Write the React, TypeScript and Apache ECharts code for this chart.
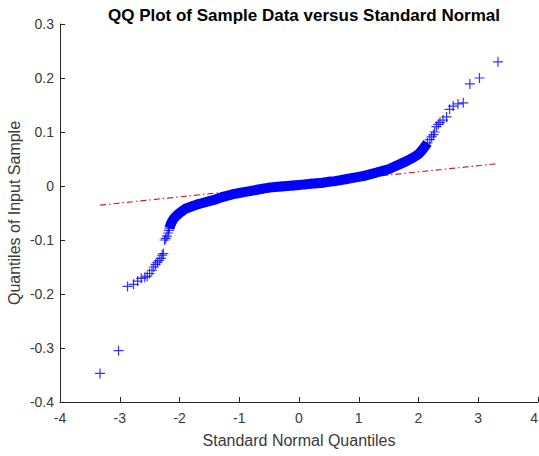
import React, { useEffect, useRef } from "react";
import * as echarts from "echarts";

// Lower tail (standard normal quantile, sample quantile)
const lowTailX = [-3.33, -3.02, -2.87, -2.77, -2.70, -2.64, -2.58, -2.54, -2.50, -2.46, -2.43, -2.40, -2.37, -2.34, -2.31, -2.29, -2.27, -2.25, -2.23, -2.21, -2.19, -2.18];
const lowTailY = [-0.347, -0.305, -0.186, -0.182, -0.176, -0.171, -0.169, -0.167, -0.162, -0.156, -0.150, -0.145, -0.141, -0.138, -0.134, -0.128, -0.125, -0.100, -0.097, -0.093, -0.087, -0.082];

// Dense central band
const bandX = [-2.17, -2.14, -2.10, -2.05, -2.00, -1.95, -1.90, -1.80, -1.70, -1.60, -1.50, -1.40, -1.30, -1.20, -1.10, -1.00, -0.90, -0.80, -0.70, -0.60, -0.50, -0.40, -0.30, -0.20, -0.10, 0.00, 0.10, 0.20, 0.30, 0.40, 0.50, 0.60, 0.70, 0.80, 0.90, 1.00, 1.10, 1.20, 1.30, 1.40, 1.50, 1.60, 1.70, 1.80, 1.90, 2.00, 2.05, 2.10, 2.15];
const bandY = [-0.078, -0.069, -0.061, -0.055, -0.050, -0.046, -0.042, -0.038, -0.034, -0.031, -0.028, -0.025, -0.021, -0.018, -0.015, -0.013, -0.011, -0.009, -0.007, -0.005, -0.003, -0.002, -0.001, 0.000, 0.001, 0.002, 0.003, 0.004, 0.005, 0.006, 0.008, 0.009, 0.011, 0.013, 0.015, 0.017, 0.019, 0.022, 0.025, 0.028, 0.031, 0.036, 0.041, 0.046, 0.052, 0.059, 0.065, 0.072, 0.080];

// Upper tail
const highTailX = [2.19, 2.22, 2.25, 2.27, 2.30, 2.33, 2.36, 2.41, 2.47, 2.52, 2.58, 2.66, 2.75, 2.86, 3.02, 3.33];
const highTailY = [0.086, 0.091, 0.095, 0.100, 0.110, 0.114, 0.118, 0.122, 0.128, 0.142, 0.148, 0.152, 0.154, 0.189, 0.200, 0.230];

// Reference line (through quartiles, extended to data range)
const refLineX = [-3.33, 3.33];
const refLineY = [-0.0355, 0.0415];

const xTicks = { min: -4, max: 4, interval: 1 };
const yTicks = { min: -0.4, max: 0.3, interval: 0.1 };

const PLUS =
  "path://M4.4,0 L5.6,0 L5.6,4.4 L10,4.4 L10,5.6 L5.6,5.6 L5.6,10 L4.4,10 L4.4,5.6 L0,5.6 L0,4.4 L4.4,4.4 Z";

const zip = (xs: number[], ys: number[]) => xs.map((x, i) => [x, ys[i]]);

export default function App() {
  const ref = useRef<HTMLDivElement>(null);
  useEffect(() => {
    if (!ref.current) return;
    const chart = echarts.init(ref.current, undefined, { renderer: "svg" });
    const font = "'Liberation Sans', Arial, Helvetica, sans-serif";
    const axisColor = "#262626";
    const labelColor = "#3a3a3a";
    const allPoints = [
      ...zip(lowTailX, lowTailY),
      ...zip(bandX, bandY),
      ...zip(highTailX, highTailY),
    ];
    chart.setOption({
      animation: false,
      backgroundColor: "#ffffff",
      title: {
        text: "QQ Plot of Sample Data versus Standard Normal",
        left: 299,
        top: 2,
        textAlign: "center",
        textStyle: { fontFamily: font, fontSize: 17, fontWeight: "bold", color: "#000000" },
      },
      grid: { left: 60, right: 1, top: 24, bottom: 54, containLabel: false, outerBoundsMode: "none" },
      xAxis: {
        type: "value",
        min: xTicks.min,
        max: xTicks.max,
        interval: xTicks.interval,
        name: "Standard Normal Quantiles",
        nameLocation: "middle",
        nameGap: 30,
        nameTextStyle: { fontFamily: font, fontSize: 16, color: labelColor },
        axisLine: { show: true, onZero: false, lineStyle: { color: axisColor, width: 1 } },
        axisTick: { show: true, inside: true, length: 5, lineStyle: { color: axisColor } },
        axisLabel: { fontFamily: font, fontSize: 14, color: labelColor, margin: 9, alignMaxLabel: "right" },
        splitLine: { show: false },
      },
      yAxis: {
        type: "value",
        min: yTicks.min,
        max: yTicks.max,
        interval: yTicks.interval,
        name: "Quantiles of Input Sample",
        nameLocation: "middle",
        nameGap: 38,
        nameMoveOverlap: false,
        nameTextStyle: { fontFamily: font, fontSize: 16, color: labelColor },
        axisLine: { show: true, onZero: false, lineStyle: { color: axisColor, width: 1 } },
        axisTick: { show: true, inside: true, length: 5, lineStyle: { color: axisColor } },
        axisLabel: {
          fontFamily: font,
          fontSize: 14,
          color: labelColor,
          margin: 6,
          formatter: (v: number) => String(parseFloat(v.toFixed(1))),
        },
        splitLine: { show: false },
      },
      series: [
        {
          type: "line",
          data: zip(refLineX, refLineY),
          showSymbol: false,
          symbol: "none",
          lineStyle: { color: "#d42222", width: 1.2, type: [6, 3, 1.5, 3] },
          z: 1,
          silent: true,
        },
        {
          type: "line",
          data: zip(bandX, bandY),
          showSymbol: false,
          symbol: "none",
          lineStyle: { color: "#0000ff", width: 10, cap: "butt", join: "round" },
          z: 2,
          silent: true,
        },
        {
          type: "scatter",
          data: allPoints,
          symbol: PLUS,
          symbolSize: 10,
          itemStyle: { color: "#0000ff" },
          z: 3,
          silent: true,
        },
      ],
    });
    return () => chart.dispose();
  }, []);
  return (
    <div
      ref={ref}
      style={{ position: "fixed", left: 0, top: 0, width: 539, height: 456, background: "#fff" }}
    />
  );
}
